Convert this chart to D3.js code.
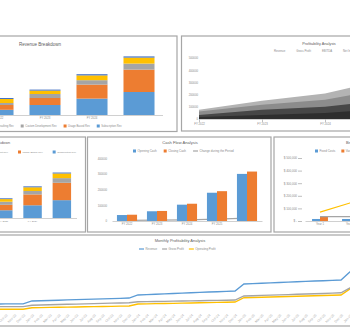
<!DOCTYPE html>
<html><head><meta charset="utf-8">
<script src="https://cdn.jsdelivr.net/npm/d3@7"></script>
<style>html,body{margin:0;padding:0;background:#fff;overflow:hidden}</style>
</head><body>
<svg id="c" width="350" height="330"></svg>
<script>
// ---------- DATA ----------
// Revenue Breakdown (stacked columns)
const revYears = ["FY 2022", "FY 2023", "FY 2024", "FY 2025"];
const revTickLabels = ["FY 2022", "FY 2023", "FY 2024", ""];
const revSeriesNames = ["Subscription Rev", "Usage Based Rev", "Custom Development Rev", "Consulting Rev", "Other Rev"];
const subscriptionRev = [26000, 50000, 82000, 115000];
const usageBasedRev = [24000, 35000, 70000, 112000];
const customDevRev = [10000, 20000, 22000, 30000];
const consultingRev = [20000, 17000, 24000, 30000];
const otherRev = [5000, 5000, 6000, 6000];

// Profitability Analysis (areas)
const profYears = ["FY 2022", "FY 2023", "FY 2024", "FY 2025"];
const profTickLabels = ["FY 2022", "FY 2023", "FY 2024", "FY 2025"];
const profSeriesNames = ["Revenue", "Gross Profit", "EBITDA", "Net Income"];
const profRevenue = [75000, 150000, 208000, 330000];
const profGrossProfit = [61000, 117000, 158000, 250000];
const profEbitda = [33000, 75000, 100000, 160000];
const profNetIncome = [17000, 33000, 50000, 85000];
const profTicks = [0, 100000, 200000, 300000, 400000, 500000];

// Cash Flow Analysis
const cashYears = ["FY 2022", "FY 2023", "FY 2024", "FY 2025", "FY 2026"];
const cashTickLabels = ["FY 2022", "FY 2023", "FY 2024", "FY 2025", ""];
const openingCash = [38000, 62000, 104000, 180000, 300000];
const closingCash = [40000, 64000, 110000, 190000, 315000];
const changeInPeriod = [4000, 5000, 7000, 12000, 18000];
const cashTicks = [0, 100000, 200000, 300000, 400000];

// Break-even Analysis
const beCategories = ["Year 1", "Year 2", "Year 3"];
const fixedCosts = [16000, 16000, 16000];
const variableCosts = [32000, 48000, 64000];
const totalCostsLine = [34000, 35000, 36000];
const beRevenue = [71000, 143000, 215000];
const beTicks = [0, 100000, 200000, 300000, 400000, 500000];

// Monthly Profitability Analysis
const monthNames = ["Jan","Feb","Mar","Apr","May","Jun","Jul","Aug","Sep","Oct","Nov","Dec"];
const monthYears = ["22","23","24","25","26"];
const monthlyRevenue = [
  6300, 6300, 6350, 6350, 6350, 6400, 6400, 6400, 6400, 6450, 6450, 6450,
  8800, 9000, 9200, 9400, 9700, 9900, 10100, 10300, 10500, 10700, 10900, 11200,
  13600, 13900, 14200, 14500, 14800, 15100, 15400, 15700, 16000, 16200, 16500, 16800,
  22400, 22700, 23000, 23300, 23600, 23900, 24200, 24500, 24800, 25000, 25300, 25600,
  32000, 32400, 32800, 33200, 33600, 34000, 34400, 34800, 35200, 35600, 36000, 36400];
const monthlyGrossProfit = [
  4150, 4150, 4200, 4200, 4200, 4200, 4250, 4250, 4250, 4250, 4250, 4250,
  5400, 5600, 5800, 6000, 6200, 6300, 6500, 6700, 6900, 7100, 7200, 7400,
  8200, 8300, 8400, 8500, 8700, 8800, 8900, 9000, 9200, 9300, 9400, 9600,
  12800, 13000, 13300, 13500, 13700, 13900, 14200, 14400, 14600, 14800, 15100, 15400,
  19200, 19500, 19800, 20100, 20400, 20700, 21000, 21300, 21600, 21900, 22200, 22500];
const monthlyOperatingProfit = [
  2100, 2100, 2150, 2150, 2150, 2200, 2200, 2200, 2200, 2200, 2200, 2200,
  3400, 3500, 3700, 3800, 3900, 4000, 4200, 4300, 4400, 4500, 4700, 4800,
  6400, 6500, 6700, 6800, 6900, 7100, 7200, 7400, 7500, 7700, 7800, 8000,
  11400, 11600, 11800, 12000, 12200, 12400, 12600, 12800, 13000, 13200, 13400, 13600,
  18400, 18700, 19000, 19300, 19600, 19900, 20200, 20500, 20800, 21100, 21400, 21700];

// ---------- DRAWING ----------
const svg = d3.select('#c');
const FONT = "'Liberation Sans', Arial, sans-serif";
const TXT = '#8a8a8a', TTL = '#606060', BORDER = '#a6a6a6', AXIS = '#d0d0d0';
const BLUE = '#5b9bd5', ORANGE = '#ed7d31', GRAY = '#a5a5a5', YELLOW = '#ffc000', DBLUE = '#4472c4';
const revColors = [BLUE, ORANGE, GRAY, YELLOW, DBLUE];

function panel(x, y, w, h) {
  svg.append('rect').attr('x', x).attr('y', y).attr('width', w).attr('height', h)
    .attr('fill', 'none').attr('stroke', BORDER).attr('stroke-width', 1.2);
}
function label(g, x, y, s, size, anchor, fill) {
  return g.append('text').attr('x', x).attr('y', y).text(s).attr('font-size', size)
    .attr('text-anchor', anchor || 'start').attr('fill', fill || TXT).attr('font-family', FONT);
}
function legend(g, items, y, size, anchorIdx, anchorX, gap) {
  const sw = 3, sg = 1.5, lw = 5;
  const widths = items.map(it => { const t = label(g, 0, -100, it.name, size); const w = t.node().getComputedTextLength(); t.remove(); return w; });
  const symW = it => it.type === 'none' ? 0 : (it.type === 'line' ? lw : sw) + sg;
  const xs = []; let cx = 0;
  items.forEach((it, i) => { xs.push(cx); cx += symW(it) + widths[i] + gap; });
  const shift = anchorX - xs[anchorIdx];
  items.forEach((it, i) => {
    const x = xs[i] + shift;
    if (it.type === 'box') g.append('rect').attr('x', x).attr('y', y - sw / 2).attr('width', sw).attr('height', sw).attr('fill', it.color);
    else if (it.type === 'line') g.append('line').attr('x1', x).attr('x2', x + lw).attr('y1', y).attr('y2', y).attr('stroke', it.color).attr('stroke-width', 1.2);
    label(g, x + symW(it), y + size * 0.35, it.name, size);
  });
}
function styleAxis(ax, size, keepDomain) {
  ax.attr('font-family', FONT).attr('font-size', size);
  ax.selectAll('text').attr('fill', TXT);
  ax.selectAll('line').attr('stroke', '#bfbfbf');
  if (keepDomain) ax.select('.domain').attr('stroke', AXIS); else ax.select('.domain').remove();
}

// ----- Panel 1: Revenue Breakdown (large) -----
panel(-97, 36, 274, 95.5);
const g1 = svg.append('g');
label(g1, 40, 45.5, 'Revenue Breakdown', 4.5, 'middle', TTL);
const revTable = revYears.map((yr, i) => ({
  year: yr,
  "Subscription Rev": subscriptionRev[i], "Usage Based Rev": usageBasedRev[i],
  "Custom Development Rev": customDevRev[i], "Consulting Rev": consultingRev[i], "Other Rev": otherRev[i]
}));
const revStack = d3.stack().keys(revSeriesNames)(revTable);
function drawRevChart(g, x, y) {
  g.selectAll('g.s').data(revStack).join('g').attr('class', 's').attr('fill', (d, i) => revColors[i])
    .selectAll('rect').data(d => d).join('rect')
    .attr('x', d => x(d.data.year)).attr('width', x.bandwidth())
    .attr('y', d => y(d[1])).attr('height', d => y(d[0]) - y(d[1]));
}
const x1 = d3.scaleBand().domain(revYears).range([-25.5, 162.5]).paddingInner(0.34).paddingOuter(0.17);
const y1 = d3.scaleLinear().domain([0, 350000]).range([115, 45]);
drawRevChart(g1, x1, y1);
const ax1 = g1.append('g').attr('transform', 'translate(0,115)')
  .call(d3.axisBottom(x1).tickSize(0).tickSizeOuter(0).tickPadding(2.5).tickFormat((d, i) => revTickLabels[i]));
styleAxis(ax1, 2.8, true);
const revLegendItems = [4, 3, 2, 1, 0].map(i => ({ name: revSeriesNames[i], color: revColors[i], type: 'box' }));
legend(g1, revLegendItems, 126, 2.7, 2, 20.7, 7);

// ----- Panel 2: Profitability Analysis -----
panel(181.5, 36, 300, 95);
const g2 = svg.append('g');
label(g2, 319, 45.3, 'Profitability Analysis', 3.8, 'middle', TTL);
const x2 = d3.scalePoint().domain(profYears).range([199, 388]);
const y2 = d3.scaleLinear().domain([0, 500000]).range([119, 58]);
const profSeries = [profRevenue, profGrossProfit, profEbitda, profNetIncome];
const profColors = ['#b3b3b3', '#8c8c8c', '#474747', '#2e2e2e'];
const area2 = d3.area().x((d, i) => x2(profYears[i])).y0(y2(0)).y1(d => y2(d));
g2.selectAll('path.a').data(profSeries).join('path').attr('class', 'a')
  .attr('d', d => area2(d)).attr('fill', (d, i) => profColors[i]);
const ay2 = g2.append('g').attr('transform', 'translate(198.5,0)')
  .call(d3.axisLeft(y2).tickValues(profTicks).tickSize(0).tickPadding(0.5).tickFormat(d3.format('d')));
styleAxis(ay2, 2.8, false);
const ax2 = g2.append('g').attr('transform', 'translate(0,119)')
  .call(d3.axisBottom(x2).tickSize(3).tickSizeOuter(0).tickPadding(1.5).tickFormat((d, i) => profTickLabels[i]));
styleAxis(ax2, 2.8, true);
legend(g2, profSeriesNames.map(n => ({ name: n, type: 'none' })), 51, 2.8, 0, 274, 11);

// ----- Panel 3: Revenue Breakdown (small) -----
panel(-100, 137, 185.5, 95);
const g3 = svg.append('g');
label(g3, 10, 144.3, 'Revenue Breakdown', 3.8, 'end', TTL);
const x3 = d3.scaleBand().domain(revYears).range([-40.67, 76.5]).paddingInner(0.37).paddingOuter(0.185);
const y3 = d3.scaleLinear().domain([0, 350000]).range([218, 163.7]);
drawRevChart(g3, x3, y3);
const ax3 = g3.append('g').attr('transform', 'translate(0,218)')
  .call(d3.axisBottom(x3).tickSize(0).tickSizeOuter(0).tickPadding(2.5).tickFormat((d, i) => revTickLabels[i]));
styleAxis(ax3, 2.5, true);
legend(g3, revLegendItems, 152, 2.5, 3, 18, 10);

// ----- Panel 4: Cash Flow Analysis -----
panel(87.5, 137, 183.5, 95);
const g4 = svg.append('g');
label(g4, 180, 144.3, 'Cash Flow Analysis', 4.1, 'middle', TTL);
const x4 = d3.scaleBand().domain(cashYears).range([112, 262]).paddingInner(0.33).paddingOuter(0.165);
const x4s = d3.scaleBand().domain(['open', 'close']).range([0, x4.bandwidth()]);
const y4 = d3.scaleLinear().domain([0, 400000]).range([221, 158.2]);
const line4 = d3.line().x((d, i) => x4(cashYears[i]) + x4.bandwidth() / 2).y(d => y4(d));
g4.append('path').attr('d', line4(changeInPeriod)).attr('fill', 'none').attr('stroke', GRAY).attr('stroke-width', 1.2);
g4.selectAll('rect.o').data(openingCash).join('rect').attr('class', 'o')
  .attr('x', (d, i) => x4(cashYears[i]) + x4s('open')).attr('width', x4s.bandwidth())
  .attr('y', d => y4(d)).attr('height', d => y4(0) - y4(d)).attr('fill', BLUE);
g4.selectAll('rect.c').data(closingCash).join('rect').attr('class', 'c')
  .attr('x', (d, i) => x4(cashYears[i]) + x4s('close')).attr('width', x4s.bandwidth())
  .attr('y', d => y4(d)).attr('height', d => y4(0) - y4(d)).attr('fill', ORANGE);
const ay4 = g4.append('g').attr('transform', 'translate(107.5,0)')
  .call(d3.axisLeft(y4).tickValues(cashTicks).tickSize(0).tickPadding(0.5).tickFormat(d3.format('d')));
styleAxis(ay4, 2.8, false);
const ax4 = g4.append('g').attr('transform', 'translate(0,221)')
  .call(d3.axisBottom(x4).tickSize(0).tickSizeOuter(0).tickPadding(2).tickFormat((d, i) => cashTickLabels[i]));
styleAxis(ax4, 2.8, true);
legend(g4, [
  { name: 'Opening Cash', color: BLUE, type: 'box' },
  { name: 'Closing Cash', color: ORANGE, type: 'box' },
  { name: 'Change during the Period', color: GRAY, type: 'line' }
], 151, 3.0, 0, 133, 7);

// ----- Panel 5: Break-even Analysis -----
panel(274, 137, 200, 95);
const g5 = svg.append('g');
label(g5, 346, 144.3, 'Break-even Analysis', 4.1, 'start', TTL);
const x5 = d3.scaleBand().domain(beCategories).range([305, 395]).paddingInner(0.47).paddingOuter(0.235);
const x5s = d3.scaleBand().domain(['fixed', 'var']).range([0, x5.bandwidth()]);
const y5 = d3.scaleLinear().domain([0, 500000]).range([221, 158]);
g5.selectAll('rect.f').data(fixedCosts).join('rect').attr('class', 'f')
  .attr('x', (d, i) => x5(beCategories[i]) + x5s('fixed')).attr('width', x5s.bandwidth())
  .attr('y', d => y5(d)).attr('height', d => y5(0) - y5(d)).attr('fill', BLUE);
g5.selectAll('rect.v').data(variableCosts).join('rect').attr('class', 'v')
  .attr('x', (d, i) => x5(beCategories[i]) + x5s('var')).attr('width', x5s.bandwidth())
  .attr('y', d => y5(d)).attr('height', d => y5(0) - y5(d)).attr('fill', ORANGE);
const line5 = d3.line().x((d, i) => x5(beCategories[i]) + x5.bandwidth() / 2).y(d => y5(d));
g5.append('path').attr('d', line5(totalCostsLine)).attr('fill', 'none').attr('stroke', GRAY).attr('stroke-width', 1.2);
g5.append('path').attr('d', line5(beRevenue)).attr('fill', 'none').attr('stroke', YELLOW).attr('stroke-width', 1.2);
const ay5 = g5.append('g').attr('transform', 'translate(302,0)')
  .call(d3.axisLeft(y5).tickValues(beTicks).tickSize(4).tickPadding(1)
    .tickFormat(d => d === 0 ? '$ -' : '$ ' + d3.format(',')(d)));
styleAxis(ay5, 3.0, false);
const ax5 = g5.append('g').attr('transform', 'translate(0,221)')
  .call(d3.axisBottom(x5).tickSize(0).tickSizeOuter(0).tickPadding(2));
styleAxis(ax5, 2.8, true);
legend(g5, [
  { name: 'Fixed Costs', color: BLUE, type: 'box' },
  { name: 'Variable Costs', color: ORANGE, type: 'box' },
  { name: 'Total Costs', color: GRAY, type: 'line' },
  { name: 'Revenue', color: YELLOW, type: 'line' }
], 151, 3.0, 0, 315, 6);

// ----- Panel 6: Monthly Profitability Analysis -----
panel(-100, 235, 560, 91);
const g6 = svg.append('g');
label(g6, 180, 242.3, 'Monthly Profitability Analysis', 4.0, 'middle', TTL);
const monthLabels = monthYears.flatMap(y => monthNames.map(m => m + '-' + y));
const x6 = d3.scalePoint().domain(monthLabels).range([-74, 447]);
const y6 = d3.scaleLinear().domain([0, 44000]).range([312, 257]);
const line6 = d3.line().x((d, i) => x6(monthLabels[i])).y(d => y6(d));
[[monthlyOperatingProfit, YELLOW], [monthlyGrossProfit, GRAY], [monthlyRevenue, BLUE]].forEach(([s, c]) => {
  g6.append('path').attr('d', line6(s)).attr('fill', 'none').attr('stroke', c).attr('stroke-width', 1.3);
});
const ax6 = g6.append('g').attr('transform', 'translate(0,312)')
  .call(d3.axisBottom(x6).tickSize(0).tickSizeOuter(0));
styleAxis(ax6, 3.4, false);
ax6.selectAll('text').attr('y', 0).attr('x', 0).attr('dy', '0.35em')
  .attr('text-anchor', 'end').attr('transform', 'translate(1,2.5) rotate(-45)').attr('fill', '#b0b0b0');
legend(g6, [
  { name: 'Revenue', color: BLUE, type: 'line' },
  { name: 'Gross Profit', color: GRAY, type: 'line' },
  { name: 'Operating Profit', color: YELLOW, type: 'line' }
], 249, 2.9, 0, 139, 5);
</script>
</body></html>
